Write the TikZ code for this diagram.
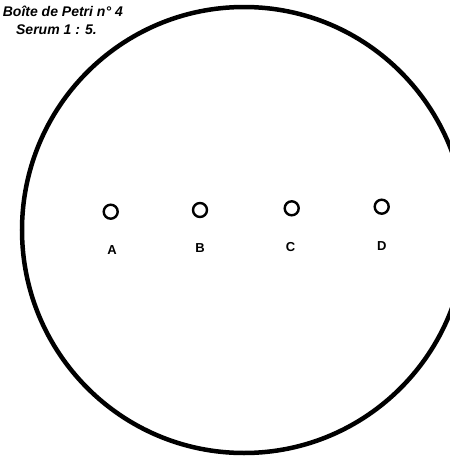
\documentclass[tikz,border=0pt]{standalone}
\usepackage{fontspec}
\setmainfont{Liberation Sans}
\begin{document}
\begin{tikzpicture}[x=1pt,y=-1pt,
  well/.style={circle,draw,line width=2.4pt,minimum size=14pt,inner sep=0pt},
  welllabel/.style={font=\bfseries\fontsize{13}{14}\selectfont,inner sep=0pt},
  title/.style={font=\bfseries\itshape\fontsize{14}{16}\selectfont,inner sep=0pt,anchor=base east}]
\useasboundingbox (0,0) rectangle (450,464);
\begin{scope}
\clip (0,0) rectangle (450,464);
\draw[line width=4.5pt] (244,230) ellipse [x radius=222, y radius=223];
\node[title] (t1) at (123,16.5) {Boîte de Petri n° 4};
\end{scope}
\node[title] (t2) at (97,34) {Serum 1 : 5.};
\node[well] (wa) at (110.7,211.7) {};
\node[well] (wb) at (200,210) {};
\node[well] (wc) at (291.7,208.3) {};
\node[well] (wd) at (381.7,206.7) {};
\node[welllabel] (la) at (112,250) {A};
\node[welllabel] (lb) at (200,248.3) {B};
\node[welllabel] (lc) at (290.5,246.7) {C};
\node[welllabel] (ld) at (381.7,246) {D};
\end{tikzpicture}
\end{document}
